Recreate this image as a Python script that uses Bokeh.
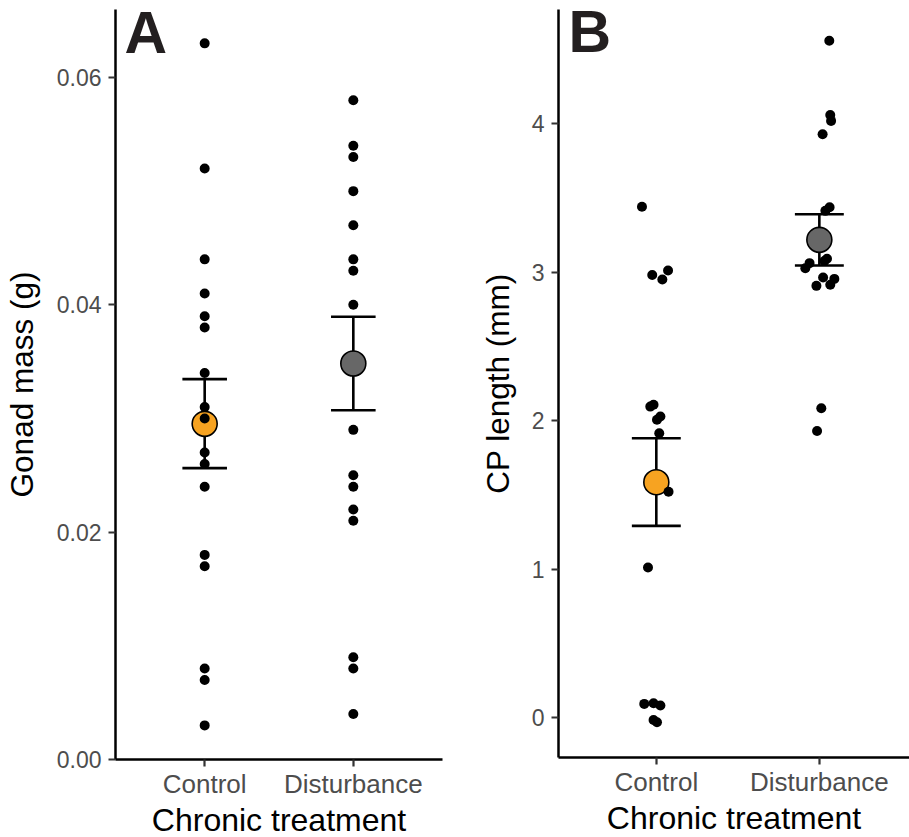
from bokeh.plotting import figure
from bokeh.layouts import row
from bokeh.models import FixedTicker, NumeralTickFormatter, Label, Range1d
from bokeh.embed import file_html
from bokeh.resources import INLINE

categories = ["Control", "Disturbance"]
cat_pos = [1, 2]

# Panel A: gonad mass (g), raw values per treatment
gonad_control = [0.063, 0.052, 0.044, 0.041, 0.039, 0.038, 0.034, 0.031, 0.030,
                 0.027, 0.026, 0.024, 0.018, 0.017, 0.008, 0.007, 0.003]
gonad_disturb = [0.058, 0.054, 0.053, 0.050, 0.047, 0.044, 0.043, 0.040,
                 0.029, 0.025, 0.024, 0.022, 0.021, 0.009, 0.008, 0.004]
gonad_mean = [0.02953, 0.03484]
gonad_lo = [0.02563, 0.03073]
gonad_hi = [0.03346, 0.03895]

# Panel B: CP length (mm), raw values with horizontal jitter (category units)
cp_control = [3.44, 3.01, 2.98, 2.95, 2.106, 2.094, 2.027, 2.005, 1.914,
              1.52, 1.01, 0.096, 0.092, 0.081, -0.016, -0.032]
cp_control_jitter = [-0.088, 0.072, -0.025, 0.037, -0.017, -0.037, 0.025, 0.004, 0.018,
                     0.075, -0.051, -0.017, -0.074, 0.025, -0.017, 0.004]
cp_disturb = [4.557, 4.058, 4.018, 3.928, 3.436, 3.412, 3.089, 3.075, 3.06,
              3.026, 2.963, 2.954, 2.914, 2.907, 2.083, 1.93]
cp_disturb_jitter = [0.061, 0.067, 0.072, 0.02, 0.063, 0.037, 0.047, 0.031, -0.06,
                     -0.086, 0.023, 0.092, 0.067, -0.018, 0.012, -0.014]
cp_mean = [1.585, 3.217]
cp_lo = [1.291, 3.044]
cp_hi = [1.881, 3.389]

mean_colors = ["#F7A321", "#676767"]

FONT = "Liberation Sans"


def make_panel(ylabel, y_range, yticks, yfmt, x_end, groups, jitters, means, lo, hi,
               letter, letter_xy, frame_w, frame_h, b_left, b_right, b_top, ytitle_standoff):
    p = figure(frame_width=frame_w, frame_height=frame_h,
               x_range=Range1d(0.4, x_end), y_range=Range1d(*y_range),
               output_backend="svg", toolbar_location=None,
               min_border_left=b_left, min_border_right=b_right,
               min_border_top=b_top, min_border_bottom=0)
    p.outline_line_color = None
    p.xgrid.visible = False
    p.ygrid.visible = False
    p.background_fill_color = "white"
    p.border_fill_color = "white"

    # error bars
    cap = 0.15
    lw = 2.6
    p.segment(x0=cat_pos, x1=cat_pos, y0=lo, y1=hi, line_color="black", line_width=lw)
    p.segment(x0=[c - cap for c in cat_pos], x1=[c + cap for c in cat_pos], y0=lo, y1=lo,
              line_color="black", line_width=lw)
    p.segment(x0=[c - cap for c in cat_pos], x1=[c + cap for c in cat_pos], y0=hi, y1=hi,
              line_color="black", line_width=lw)
    # means
    p.scatter(x=cat_pos, y=means, size=25, fill_color=mean_colors, line_color="black",
              line_width=1.6)
    # raw points
    for c, vals, jit in zip(cat_pos, groups, jitters):
        xs = [c + j for j in jit]
        p.scatter(x=xs, y=vals, size=10, fill_color="black", line_color=None)

    p.add_layout(Label(x=letter_xy[0], y=letter_xy[1], text=letter, text_font=FONT,
                       text_font_style="bold", text_font_size="59px",
                       text_color="#231f20", text_baseline="alphabetic"))

    for ax in (p.xaxis[0], p.yaxis[0]):
        ax.axis_line_color = "black"
        ax.axis_line_width = 2.5
        ax.major_tick_line_color = "#333333"
        ax.major_tick_line_width = 2.2
        ax.major_tick_in = 0
        ax.major_tick_out = 7
        ax.minor_tick_line_color = None
        ax.major_label_text_color = "#4d4d4d"
        ax.major_label_text_font = FONT
        ax.axis_label_text_font = FONT
        ax.axis_label_text_font_style = "normal"
        ax.axis_label_text_color = "black"

    p.xaxis.ticker = FixedTicker(ticks=cat_pos)
    p.xaxis.major_label_overrides = {c: n for c, n in zip(cat_pos, categories)}
    p.xaxis.major_label_text_font_size = "26px"
    p.xaxis.major_label_standoff = 2
    p.xaxis.axis_label = "Chronic treatment"
    p.xaxis.axis_label_text_font_size = "32px"
    p.xaxis.axis_label_standoff = 0

    p.yaxis.ticker = FixedTicker(ticks=yticks)
    p.yaxis.formatter = NumeralTickFormatter(format=yfmt)
    p.yaxis.major_label_text_font_size = "23px"
    p.yaxis.major_label_standoff = 7
    p.yaxis.axis_label = ylabel
    p.yaxis.axis_label_text_font_size = "31.5px"
    p.yaxis.axis_label_standoff = ytitle_standoff
    return p


pA = make_panel("Gonad mass (g)", (0.0, 0.06598), [0.0, 0.02, 0.04, 0.06], "0.00", 2.6,
                [gonad_control, gonad_disturb],
                [[0.0] * len(gonad_control), [0.0] * len(gonad_disturb)],
                gonad_mean, gonad_lo, gonad_hi, "A", (0.46, 0.0639),
                frame_w=327, frame_h=750, b_left=109, b_right=6, b_top=9,
                ytitle_standoff=14)

pB = make_panel("CP length (mm)", (-0.269, 4.768), [0, 1, 2, 3, 4], "0", 2.553,
                [cp_control, cp_disturb], [cp_control_jitter, cp_disturb_jitter],
                cp_mean, cp_lo, cp_hi, "B", (0.461, 4.615),
                frame_w=351, frame_h=748, b_left=110, b_right=0, b_top=6,
                ytitle_standoff=13)

layout = row(pA, pB)
open("out.html", "w").write(file_html(layout, INLINE))
